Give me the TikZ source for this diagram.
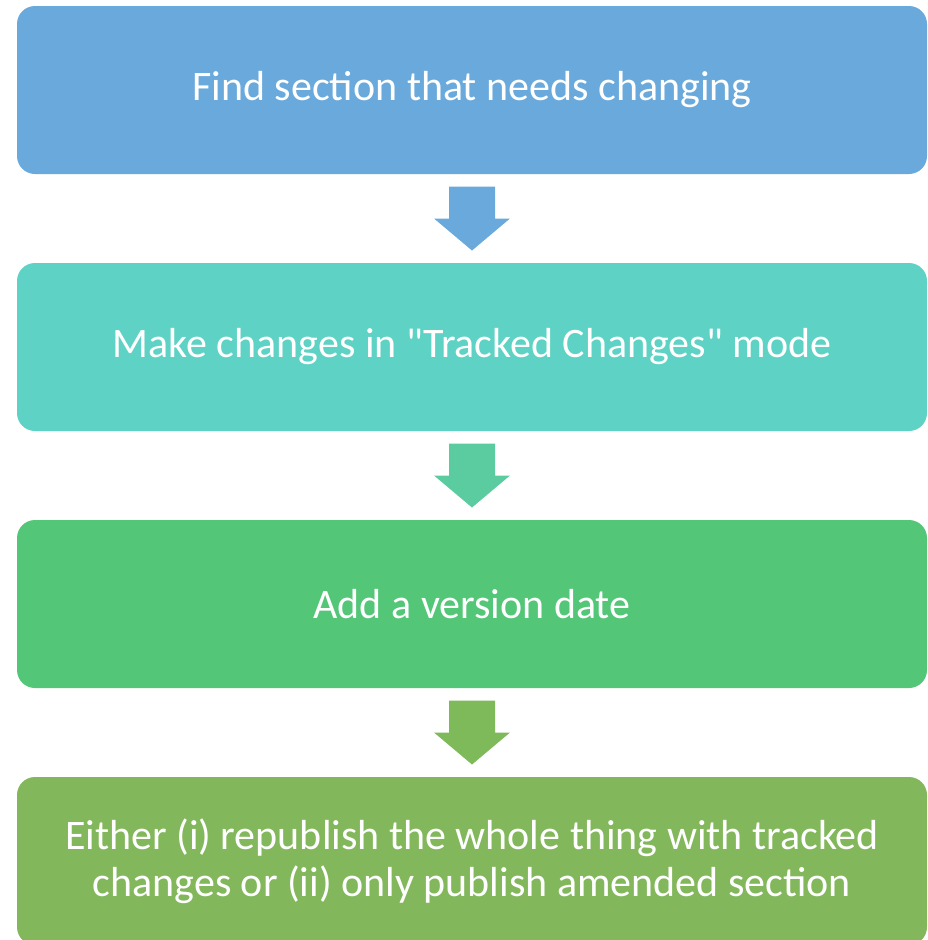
\documentclass[tikz,border=0pt]{standalone}
\usepackage{fontspec}
\setmainfont{Carlito}
\usetikzlibrary{calc}

\definecolor{boxblue}{RGB}{106,169,219}
\definecolor{boxteal}{RGB}{94,210,196}
\definecolor{boxgreen}{RGB}{83,198,119}
\definecolor{boxolive}{RGB}{130,183,91}
\definecolor{arrowteal}{RGB}{90,204,160}
\definecolor{arrowolive}{RGB}{126,185,90}

\tikzset{
  stepbox/.style={rectangle, rounded corners=18pt, minimum width=910pt,
    minimum height=168pt, inner sep=0pt, text=white, align=center,
    font=\fontsize{42}{47}\selectfont},
}

% block arrow between two boxes
\newcommand{\flowarrow}[3]{%
  \fill[#1] ($(#2.south)!0.5!(#3.north)$) ++(-23,-32) -- ++(46,0) -- ++(0,32)
    -- ++(15,0) -- ++(-38,32) -- ++(-38,-32) -- ++(15,0) -- cycle;}

\begin{document}
\begin{tikzpicture}[x=1pt,y=-1pt]
        \useasboundingbox (0,0) rectangle (927,940);

        % Boxes
        \node[stepbox, fill=boxblue] (find) at (472,90) {Find section that needs changing};
        \node[stepbox, fill=boxteal] (track) at (472,347) {Make changes in \textquotedbl Tracked Changes\textquotedbl{} mode};
        \node[stepbox, fill=boxgreen] (date) at (472,604) {Add a version date};
        \node[stepbox, fill=boxolive] (publish) at (472,861) {Either (i) republish the whole thing with tracked\\changes or (ii) only publish amended section};

        % Arrows
        \flowarrow{boxblue}{find}{track}
        \flowarrow{arrowteal}{track}{date}
        \flowarrow{arrowolive}{date}{publish}
\end{tikzpicture}
\end{document}
